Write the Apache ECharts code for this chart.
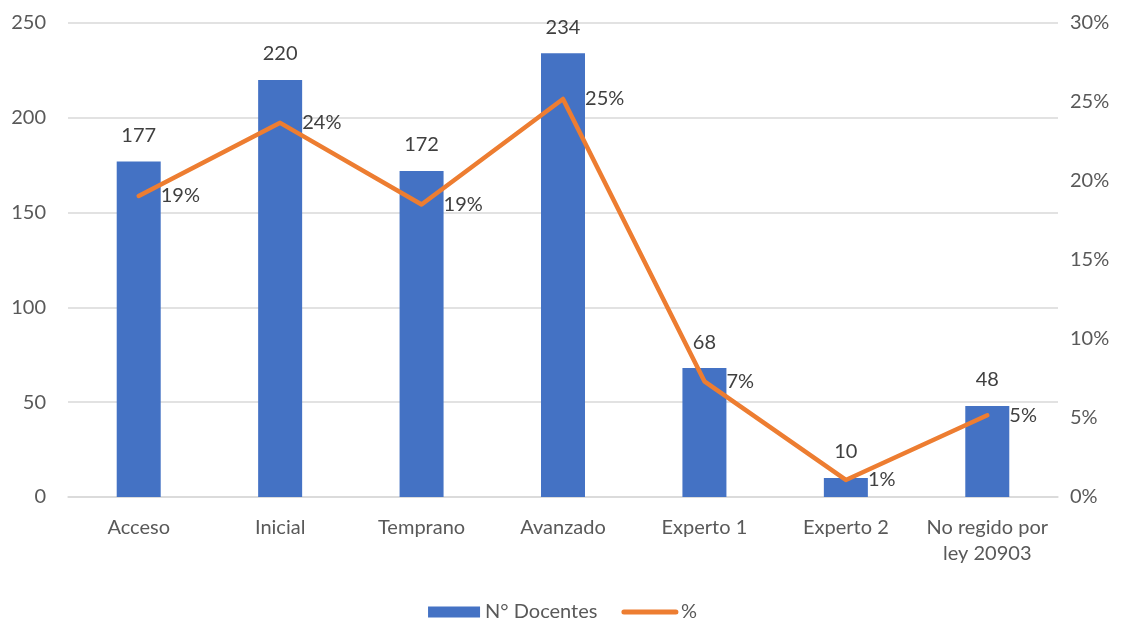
<!DOCTYPE html>
<html><head><meta charset="utf-8">
<script src="https://cdn.jsdelivr.net/npm/echarts@6/dist/echarts.min.js"></script>
<style>html,body{margin:0;padding:0;background:#fff}#c{width:1125px;height:620px}</style>
</head><body><div id="c"></div>
<script>
const categories = ['Acceso','Inicial','Temprano','Avanzado','Experto 1','Experto 2','No regido por\nley 20903'];
const docentes = [177,220,172,234,68,10,48];
const porcentaje = [19.05,23.68,18.51,25.19,7.32,1.08,5.17];
const leftTicks = {min:0,max:250,interval:50};
const rightTicks = {min:0,max:30,interval:5};

const FONT = 'Lato';
const txt = '#595959';
const chart = echarts.init(document.getElementById('c'));
chart.setOption({
  animation:false,
  textStyle:{fontFamily:FONT},
  grid:{left:68,right:67,top:23,bottom:123},
  legend:{
    top:597,left:'center',itemWidth:52,itemHeight:11,itemGap:24,
    textStyle:{fontFamily:FONT,fontSize:20,color:txt},
    data:[{name:'N° Docentes',icon:'rect'},
          {name:'%',itemStyle:{opacity:0},lineStyle:{width:5,cap:'round',color:'#ED7D31'}}]
  },
  xAxis:{type:'category',data:categories,
    axisLine:{lineStyle:{color:'#d9d9d9',width:1.5}},axisTick:{show:false},
    axisLabel:{fontFamily:FONT,fontSize:20,color:txt,margin:18,lineHeight:26,interval:0}},
  yAxis:[
    {type:'value',min:leftTicks.min,max:leftTicks.max,interval:leftTicks.interval,
     axisLabel:{fontFamily:FONT,fontSize:20,color:txt,margin:22},
     splitLine:{lineStyle:{color:'#d9d9d9',width:1.5}},axisLine:{show:false}},
    {type:'value',min:rightTicks.min,max:rightTicks.max,interval:rightTicks.interval,
     axisLabel:{fontFamily:FONT,fontSize:20,color:txt,margin:12,formatter:'{value}%'},
     splitLine:{show:false},axisLine:{show:false}}
  ],
  series:[
    {name:'N° Docentes',type:'bar',data:docentes,barWidth:44,
     itemStyle:{color:'#4472C4'},
     label:{show:true,position:'top',distance:16,fontFamily:FONT,fontSize:20,color:'#404040'}},
    {name:'%',type:'line',yAxisIndex:1,data:porcentaje,
     lineStyle:{color:'#ED7D31',width:4.5,cap:'round',join:'round'},itemStyle:{color:'#ED7D31'},
     symbol:'circle',symbolSize:0.1,showSymbol:true,
     label:{show:true,position:'right',distance:22,fontFamily:FONT,fontSize:20,color:'#404040',
       formatter:p=>Math.round(p.value)+'%'}}
  ]
});
</script></body></html>
